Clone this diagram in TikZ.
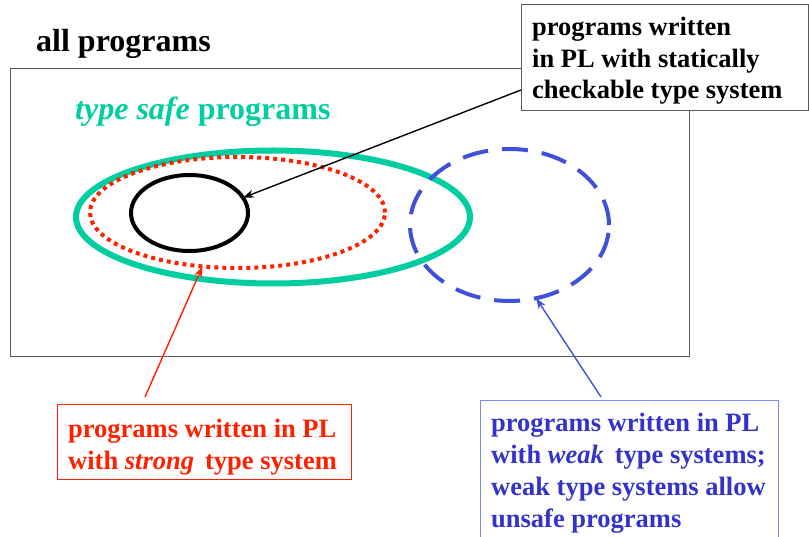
\documentclass[tikz,border=0pt]{standalone}
\usepackage{fontspec}
\setmainfont{Liberation Serif}
\usetikzlibrary{arrows.meta,calc,shapes.geometric}
\definecolor{safegreen}{RGB}{0,206,160}
\definecolor{strongred}{RGB}{255,32,0}
\definecolor{weakblue}{RGB}{64,80,216}
\definecolor{weaktext}{RGB}{51,51,204}
\definecolor{weakframe}{RGB}{128,136,255}
\definecolor{frame}{RGB}{90,90,90}
\tikzset{
  lbl/.style={font=\fontsize{26.5}{31.8}\selectfont\bfseries, align=left, inner sep=0pt, anchor=base west},
  boxframe/.style={draw, inner sep=0pt, outer sep=0pt, anchor=north west, line width=1pt},
  ring/.style={ellipse, draw, inner sep=0pt, outer sep=0pt},
  ptr/.style={-{Stealth[length=11pt,width=8pt]}, line width=1.4pt},
}
\begin{document}
\begin{tikzpicture}[x=1pt,y=-1pt]
\useasboundingbox (0,0) rectangle (809,537);
\clip (0,0) rectangle (809,537);

% universe of all programs
\node[anchor=base west, inner sep=0pt, font=\fontsize{32}{36}\selectfont\bfseries] (alltitle) at (36,52) {all programs};
\node[draw=frame, line width=1.2pt, anchor=north west, inner sep=0pt, minimum width=679pt, minimum height=288pt] (universe) at (10,68) {};

% type safe region
\node[anchor=base west, inner sep=0pt, text=safegreen, font=\fontsize{32}{36}\selectfont\bfseries] (safetitle) at (75,120) {\textit{type safe} programs};
\node[ring, draw=safegreen, line width=6pt, minimum width=394pt, minimum height=133pt] (safe) at (273,217) {};

% strongly typed region
\node[ring, draw=strongred, line width=4pt, dash pattern=on 4pt off 4pt, minimum width=295pt, minimum height=111pt] (strong) at (237.5,212.5) {};

% statically checked region
\node[ring, draw=black, line width=4pt, minimum width=117pt, minimum height=76pt] (static) at (189.5,213) {};

% weakly typed region
\node[ring, draw=weakblue, line width=4pt, dash pattern=on 26pt off 14pt, minimum width=199pt, minimum height=152pt] (weak) at (509.5,225) {};

% callout: statically checkable (base anchor = last line)
\node[boxframe, draw=frame, fill=white, minimum width=287pt, minimum height=106pt] (staticbox) at (521,5) {};
\node[lbl] (statictext) at (532,99) {programs written\\in PL with statically\\checkable type system};

% callout: strong
\node[boxframe, draw=strongred, minimum width=294pt, minimum height=74pt] (strongbox) at (57,405) {};
\node[lbl, text=strongred] (strongtext) at (68,469) {programs written in PL\\with \textit{strong}\, type system};

% callout: weak
\node[boxframe, draw=weakframe, minimum width=298pt, minimum height=150pt] (weakbox) at (480,401) {};
\node[lbl, text=weaktext] (weaktext) at (491,527) {programs written in PL\\with \textit{weak}\, type systems;\\weak type systems allow\\unsafe programs};

% pointers
\draw[ptr, black] ($(staticbox.south west)+(0,-21)$) -- (static.16);
\draw[ptr, strongred] ($(strongbox.north west)+(88,-8)$) -- (strong.237);
\draw[ptr, weakblue] ($(weakbox.north west)+(121,-4)$) -- (weak.290);
\end{tikzpicture}
\end{document}
